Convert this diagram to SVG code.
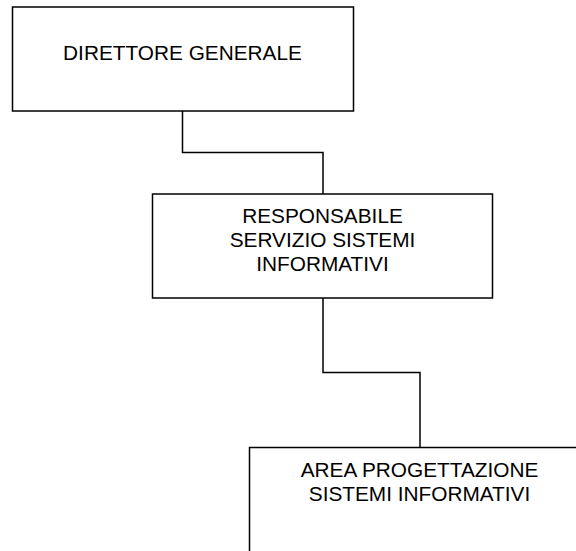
<svg xmlns="http://www.w3.org/2000/svg" width="576" height="551" viewBox="0 0 576 551">
<style>
.box{fill:#fff;stroke:#000;stroke-width:1.5}
.conn{fill:none;stroke:#000;stroke-width:1.5}
text{font-family:"Liberation Sans",Arial,sans-serif;font-size:20.8px;fill:#000;text-anchor:middle}
</style>
<rect width="576" height="551" fill="#fff"/>
<g id="connectors">
<path class="conn" d="M182.5,111 V152.5 H323 V194"/>
<path class="conn" d="M323,298 V372.5 H420 V447.5"/>
</g>
<g id="direttore">
<rect class="box" x="12.5" y="7" width="341" height="104"/>
<text x="182.5" y="60">DIRETTORE GENERALE</text>
</g>
<g id="responsabile">
<rect class="box" x="152.5" y="194" width="340" height="104"/>
<text x="322.5" y="223">RESPONSABILE</text>
<text x="322.5" y="247">SERVIZIO SISTEMI</text>
<text x="322.5" y="271">INFORMATIVI</text>
</g>
<g id="area">
<rect class="box" x="249.5" y="447.5" width="360" height="160"/>
<text x="419.5" y="477">AREA PROGETTAZIONE</text>
<text x="419.5" y="500.5">SISTEMI INFORMATIVI</text>
</g>
</svg>
